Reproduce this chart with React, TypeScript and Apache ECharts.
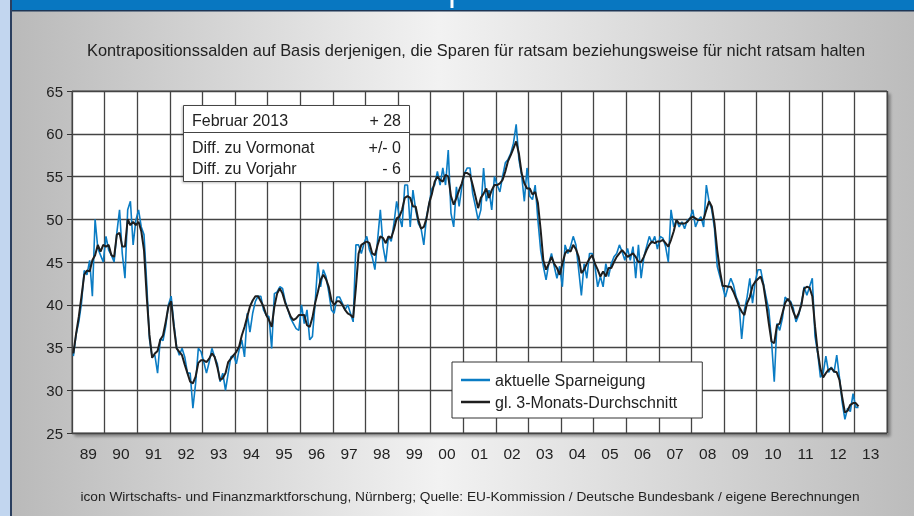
import React, { useEffect, useRef } from "react";
import * as echarts from "echarts";

// ---------- data ----------
const START_YEAR = 1989; // first monthly value: January 1989, last: February 2013

const yearLabels = [
  "89", "90", "91", "92", "93", "94", "95", "96", "97", "98", "99", "00", "01",
  "02", "03", "04", "05", "06", "07", "08", "09", "10", "11", "12", "13",
];

// aktuelle Sparneigung (monthly)
const aktuelleSparneigung = [
  34, 36.5, 38, 40.2, 44, 43.5, 45.2, 41, 50, 46.6, 45.8, 45, // 1989
  48, 46.4, 45.8, 45, 48.4, 51.1, 46, 43.1, 51.1, 52.1, 47, 49.9, // 1990
  51.1, 49.1, 48.2, 42.5, 36, 33.9, 34.1, 32, 36, 35.8, 37.5, 40, // 1991
  41, 37.8, 35.1, 34.1, 34.9, 33.9, 32, 32, 27.9, 30.8, 34.9, 34.5, // 1992
  33.3, 32, 33.3, 34.9, 33.9, 33.1, 31, 32, 30, 32, 33.9, 34.1, // 1993
  33.1, 34.7, 35.9, 33.9, 39, 36.8, 39, 40.4, 41, 41, 39.4, 38.8, // 1994
  38.6, 34.9, 41.3, 41.5, 42.1, 41.9, 40.4, 39.4, 38.4, 37.8, 37.2, 37, // 1995
  40, 37.8, 39.4, 35.9, 36.3, 40.2, 45, 42.1, 44.1, 43.3, 41.5, 39.4, // 1996
  39, 40.9, 40.9, 40.2, 39.4, 40, 39, 38, 47, 47, 46, 47.2, // 1997
  48, 46.4, 45.6, 44.1, 47.6, 51.1, 46.8, 45, 48, 47.4, 49.5, 52.1, // 1998
  50.3, 49.1, 54, 54, 49.1, 53.4, 51.1, 49.5, 48.9, 47, 50.3, 51.9, // 1999
  53.6, 54, 55.6, 54, 56, 54, 58.1, 50.7, 49.1, 53.8, 51.5, 53.8, // 2000
  55.4, 56, 56, 53, 51.5, 49.9, 51.1, 56, 52.1, 53.4, 51.1, 55, // 2001
  54, 53.2, 55, 56.6, 57, 57.7, 58.9, 61.1, 57, 55.2, 52.1, 56, // 2002
  52.7, 52.3, 54, 49.9, 46.4, 44.5, 42.9, 44.8, 46, 44.5, 43.1, 44.5, // 2003
  42.1, 47, 46, 46.8, 48, 47, 44.1, 41.1, 44.8, 43.1, 46, 46, // 2004
  44.5, 42.1, 43.3, 42.1, 44.8, 43.3, 44.8, 45.6, 46, 47, 46.2, 45.2, // 2005
  46.6, 45.2, 46.8, 43.1, 47, 43.1, 45.6, 46.8, 48, 47.2, 48, 46.5, // 2006
  48, 47.8, 46.8, 45, 51.1, 49.1, 49.9, 49.1, 49.7, 48.9, 49.9, 50.1, // 2007
  51.1, 49.1, 49.9, 50.3, 49.1, 54, 52.1, 51.1, 48.9, 44.5, 43.3, 42.1, // 2008
  40.9, 42.1, 43.1, 42.3, 40.9, 40.2, 36, 39.4, 40.9, 43.1, 40.2, 42.7, // 2009
  44.1, 44.1, 42.5, 40.9, 39.4, 35.7, 31, 37.8, 37, 38.4, 40.9, 40.5, // 2010
  40.4, 39.6, 38, 38.8, 40.2, 42.1, 41.1, 42.1, 43.1, 36.3, 34.3, 31.5, // 2011
  32, 34, 32.1, 32.7, 32.1, 34.1, 31.5, 28.6, 26.6, 27.9, 27.5, 29.6, // 2012
  28, 28, // 2013
];

// gleitender 3-Monats-Durchschnitt (monthly)
const durchschnitt3M = [
  34.3, 36.6, 38.6, 41, 43.5, 44, 43.9, 45.2, 45.8, 47, 46.2, 47, // 1989
  46.8, 47, 45.8, 45.6, 48.2, 48.4, 46.8, 46.8, 50, 49.3, 49.7, 49.3, // 1990
  49.7, 48.6, 46.4, 41, 36.5, 33.8, 34.3, 34.6, 35.9, 36.4, 38, 39.8, // 1991
  40.4, 37.4, 34.9, 34.5, 34.1, 33, 32, 31, 30.8, 31.6, 33.2, 33.5, // 1992
  33.5, 33.3, 33.7, 34.3, 33.9, 32.7, 31.2, 31.4, 32, 33.3, 33.7, 34.1, // 1993
  34.5, 35.1, 36.4, 37.4, 38.6, 39.8, 40.5, 41, 41, 40.4, 39.8, 38.8, // 1994
  38.2, 37.4, 39.8, 41.3, 41.9, 41.3, 40.2, 39.4, 38.6, 38.2, 38.4, 38.8, // 1995
  38.8, 38.8, 37.6, 37.4, 38.5, 40.2, 41.5, 42.9, 43.5, 43, 42.1, 40.5, // 1996
  40, 40.4, 40.4, 40, 39.4, 39, 38.8, 38.5, 42, 46, 47, 47.2, // 1997
  47.4, 47.2, 46, 45.8, 47, 48, 47.8, 47.2, 48, 47.8, 48.8, 50.1, // 1998
  50.3, 51.1, 52.5, 52.7, 52.5, 51.5, 51.5, 49.9, 48.9, 49.1, 50.1, 51.9, // 1999
  53, 54.4, 55, 54.6, 54.4, 55.2, 55, 52.7, 51.7, 52.5, 53.4, 54.2, // 2000
  55.4, 55.4, 55.2, 54, 52.7, 51.3, 52.5, 53, 53.6, 52.5, 53.4, 54, // 2001
  54, 54.2, 54.6, 55.6, 56.8, 57.5, 58.3, 59.1, 57.7, 55.4, 54.2, 53.6, // 2002
  53.6, 52.9, 53.2, 51.9, 48.8, 45.2, 44.1, 44.8, 45.6, 44.8, 44.3, 43.5, // 2003
  44.8, 46, 46.4, 46.2, 47, 46.5, 45.6, 43.7, 44.1, 44.8, 45.4, 45.8, // 2004
  44.8, 44.1, 43.3, 43.9, 43.3, 44.3, 44.3, 45, 45.6, 46, 46.4, 46, // 2005
  45.6, 45.8, 46, 45.6, 45, 45, 45.6, 46.4, 47, 47.4, 47.2, 47.4, // 2006
  47.4, 47.6, 47.2, 46.8, 47.6, 48.6, 49.9, 49.5, 49.5, 49.5, 49.7, 50.1, // 2007
  50.3, 50.1, 49.9, 49.9, 50, 51.1, 52.1, 51.5, 49.5, 46.4, 44, 42.2, // 2008
  42.2, 42.1, 42.1, 41.5, 40.7, 39.8, 39.2, 38.8, 40.2, 40.9, 42.2, 42.7, // 2009
  43, 43.3, 42.3, 40.2, 37.8, 35.7, 35.5, 37.6, 37.8, 39, 40.2, 40.7, // 2010
  40.2, 39.2, 38.4, 39, 40, 41.9, 42.1, 42, 41, 37.5, 34.5, 32.5, // 2011
  31.5, 32, 32.4, 32.6, 32.2, 32.1, 31.2, 29.2, 27.4, 27.6, 28.3, 28.5, // 2012
  28.5, 28.1, // 2013
];

const seriesNames = ["aktuelle Sparneigung", "gl. 3-Monats-Durchschnitt"];
const infoRows = [
  ["Februar 2013", "+ 28"],
  ["Diff. zu Vormonat", "+/- 0"],
  ["Diff. zu Vorjahr", "- 6"],
];
const subtitle =
  "Kontrapositionssalden auf Basis derjenigen, die Sparen für ratsam beziehungsweise für nicht ratsam halten";
const footnote =
  "icon Wirtschafts- und Finanzmarktforschung, Nürnberg; Quelle: EU-Kommission / Deutsche Bundesbank / eigene Berechnungen";

// ---------- chart ----------
const FONT = "'Liberation Sans', Arial, sans-serif";
const BLUE = "#0a7cc4";
const BLACK = "#1e1e1e";

const toPoints = (arr: number[]) =>
  arr.map((v, i) => [START_YEAR + (i + 0.5) / 12, v]);

function txt(x: number, y: number, text: string, size: number, align: string, z = 10) {
  return {
    type: "text",
    x,
    y,
    z,
    silent: true,
    style: {
      text,
      fill: "#222",
      fontSize: size,
      fontFamily: FONT,
      align,
      verticalAlign: "middle",
      textAlign: align,
      textVerticalAlign: "middle",
    },
  };
}

export default function App() {
  const ref = useRef<HTMLDivElement>(null);

  useEffect(() => {
    if (!ref.current) return;
    const chart = echarts.init(ref.current, undefined, { renderer: "svg" });

    const bg = new echarts.graphic.LinearGradient(0, 0, 1, 0, [
      { offset: 0, color: "#b8b8b8" },
      { offset: 0.48, color: "#f2f2f2" },
      { offset: 1, color: "#bcbcbc" },
    ]);

    const infoX = 183.5;
    const infoY = 105.5;
    const infoW = 226;
    const infoH = 76;

    const option: any = {
      animation: false,
      textStyle: { fontFamily: FONT },
      grid: {
        left: 72,
        top: 91,
        width: 815,
        height: 342,
        show: true,
        backgroundColor: "#ffffff",
        borderColor: "#555",
        borderWidth: 1,
        shadowColor: "rgba(0,0,0,0.35)",
        shadowBlur: 3,
        shadowOffsetX: 3,
        shadowOffsetY: 3,
      },
      xAxis: [
        {
          type: "value",
          position: "top",
          min: 1989,
          max: 2014,
          interval: 1,
          axisLine: { show: false },
          axisTick: { show: false },
          axisLabel: { show: false },
          splitLine: { show: true, lineStyle: { color: "#444", width: 1.3 } },
        },
        {
          type: "category",
          position: "bottom",
          data: yearLabels,
          boundaryGap: true,
          axisLine: { show: false },
          axisTick: { show: false },
          splitLine: { show: false },
          axisLabel: {
            interval: 0,
            margin: 12,
            fontSize: 15.5,
            color: "#222",
            fontFamily: FONT,
          },
        },
      ],
      yAxis: {
        type: "value",
        min: 25,
        max: 65,
        interval: 5,
        axisLine: { show: false },
        axisTick: { show: true, length: 5, lineStyle: { color: "#333" } },
        axisLabel: { margin: 9, fontSize: 15, color: "#222", fontFamily: FONT },
        splitLine: { show: true, lineStyle: { color: "#444", width: 1.3 } },
      },
      legend: {
        left: 452,
        top: 362,
        orient: "vertical",
        backgroundColor: "#ffffff",
        borderColor: "#333",
        borderWidth: 1,
        padding: [10, 25, 8, 9],
        itemGap: 6,
        itemWidth: 29,
        itemHeight: 2.5,
        icon: "rect",
        selectedMode: false,
        textStyle: { fontSize: 16, color: "#222", fontFamily: FONT, lineHeight: 16 },
        data: seriesNames,
      },
      series: [
        {
          name: seriesNames[0],
          type: "line",
          xAxisIndex: 0,
          data: toPoints(aktuelleSparneigung),
          symbol: "none",
          lineStyle: { color: BLUE, width: 1.6 },
          itemStyle: { color: BLUE },
          z: 2,
        },
        {
          name: seriesNames[1],
          type: "line",
          xAxisIndex: 0,
          data: toPoints(durchschnitt3M),
          symbol: "none",
          lineStyle: { color: BLACK, width: 2 },
          itemStyle: { color: BLACK },
          z: 3,
        },
      ],
      graphic: [
        // page background
        {
          type: "rect",
          z: -100,
          silent: true,
          shape: { x: 0, y: 0, width: 914, height: 516 },
          style: { fill: bg },
        },
        // left border strip
        {
          type: "rect",
          z: -90,
          silent: true,
          shape: { x: 0, y: 0, width: 10, height: 516 },
          style: { fill: "#c2d6ef" },
        },
        {
          type: "rect",
          z: -90,
          silent: true,
          shape: { x: 10, y: 0, width: 2, height: 516 },
          style: { fill: "#2b3f5f" },
        },
        // header band
        {
          type: "rect",
          z: -90,
          silent: true,
          shape: { x: 12, y: 0, width: 902, height: 10 },
          style: { fill: "#0877c1" },
        },
        {
          type: "rect",
          z: -90,
          silent: true,
          shape: { x: 12, y: 10, width: 902, height: 1.5 },
          style: { fill: "#1d3656" },
        },
        {
          type: "rect",
          z: -89,
          silent: true,
          shape: { x: 450.5, y: 0, width: 3, height: 8 },
          style: { fill: "#ffffff" },
        },
        txt(476, 50, subtitle, 16.4, "center"),
        txt(470, 496, footnote, 13.7, "center"),
        // info box
        {
          type: "rect",
          z: 20,
          silent: true,
          shape: { x: infoX, y: infoY, width: infoW, height: infoH },
          style: {
            fill: "#ffffff",
            stroke: "#444",
            lineWidth: 1,
            shadowColor: "rgba(0,0,0,0.25)",
            shadowBlur: 2,
            shadowOffsetX: -1,
            shadowOffsetY: 1,
          },
        },
        {
          type: "line",
          z: 21,
          silent: true,
          shape: { x1: infoX, y1: 132.5, x2: infoX + infoW, y2: 132.5 },
          style: { stroke: "#444", lineWidth: 1 },
        },
        txt(192, 120, infoRows[0][0], 16, "left", 22),
        txt(401, 120, infoRows[0][1], 16, "right", 22),
        txt(192, 147, infoRows[1][0], 16, "left", 22),
        txt(401, 147, infoRows[1][1], 16, "right", 22),
        txt(192, 168, infoRows[2][0], 16, "left", 22),
        txt(401, 168, infoRows[2][1], 16, "right", 22),
      ],
    };

    chart.setOption(option);
    return () => chart.dispose();
  }, []);

  return (
    <div
      ref={ref}
      style={{ position: "fixed", left: 0, top: 0, width: 914, height: 516 }}
    />
  );
}
